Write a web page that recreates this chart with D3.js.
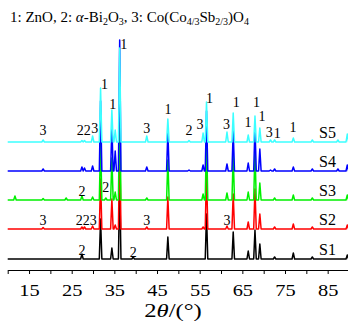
<!DOCTYPE html>
<html>
<head>
<meta charset="utf-8">
<script src="https://cdn.jsdelivr.net/npm/d3@7"></script>
<style>
  body { margin: 0; background: #fff; }
  svg text { font-family: "Liberation Serif", "Times New Roman", Times, "DejaVu Serif", serif; fill: #000; }
</style>
</head>
<body>
<svg id="chart"></svg>
<script>
// XRD patterns, peaks as [2theta, intensity]
const seriesNames = ['S1', 'S2', 'S3', 'S4', 'S5']
const seriesColors = ['#000000', '#ff0000', '#00f000', '#0000ff', '#3cffff']
const seriesOffsets = [10, 40, 69, 98, 127]

const s1Peaks = [[27.4, 5], [31.77, 40], [34.42, 11], [36.25, 80], [39.4, 2], [47.54, 22], [56.6, 45], [62.86, 27], [66.38, 8], [67.96, 29], [69.1, 15], [72.56, 2], [76.95, 6], [81.4, 2], [89.6, 4]]
const s2Peaks = [[18.3, 1.5], [27.4, 2], [28.0, 2], [29.9, 3], [31.77, 50], [34.42, 30], [35.2, 4], [36.25, 90], [42.6, 2], [47.54, 32], [55.8, 2], [56.6, 60], [61.4, 3], [62.86, 35], [66.38, 7], [67.96, 40], [69.1, 15], [72.56, 2], [76.95, 5], [81.4, 2], [89.6, 4]]
const s3Peaks = [[11.7, 4], [18.3, 1.5], [23.7, 2], [27.4, 4], [29.9, 3], [31.77, 60], [33.0, 2], [34.42, 42], [35.2, 8], [36.25, 100], [42.6, 2], [47.54, 40], [55.8, 6], [56.6, 65], [61.4, 7], [62.86, 45], [66.38, 8], [67.96, 50], [69.1, 17], [72.56, 2], [76.95, 5], [81.4, 2], [89.6, 5]]
const s4Peaks = [[18.3, 2], [27.4, 4], [28.0, 3], [29.9, 5], [31.77, 70], [34.42, 45], [35.2, 20], [36.25, 131], [42.6, 4], [47.54, 40], [52.5, 1], [55.8, 6], [56.6, 60], [61.4, 7], [62.86, 40], [66.38, 8], [67.96, 45], [69.1, 22], [71.6, 1], [72.56, 2], [76.95, 4], [81.4, 2], [87.4, 2], [89.6, 6]]
const s5Peaks = [[18.3, 2], [27.4, 1.5], [28.0, 1.5], [29.9, 6], [31.77, 54], [34.42, 32], [35.2, 12], [36.25, 94], [42.6, 6], [47.54, 23], [52.5, 1.5], [55.8, 9], [56.6, 40], [61.4, 10], [62.86, 29], [66.38, 7], [67.96, 26], [69.1, 14], [71.6, 2], [72.56, 2], [76.95, 4], [81.4, 2], [87.4, 2], [89.6, 8]]
const allPeaks = [s1Peaks, s2Peaks, s3Peaks, s4Peaks, s5Peaks]

// phase labels: [text, 2theta, height above axis zero]
const peakLabels = [
  ['2', 27.4, 14], ['2', 39.4, 12],
  ['3', 18.3, 44], ['223', 28.4, 44], ['3', 42.6, 44], ['3', 61.4, 44],
  ['2', 27.4, 73], ['2', 33.0, 77],
  ['3', 18.3, 134], ['22', 27.8, 134], ['3', 30.4, 136], ['1', 32.7, 180], ['1', 34.6, 160],
  ['1', 37.2, 220], ['3', 42.6, 136], ['1', 47.6, 155], ['2', 52.5, 134], ['3', 55.1, 140],
  ['1', 57.3, 166], ['3', 61.3, 140], ['1', 63.6, 162], ['1', 66.3, 142], ['1', 68.3, 162],
  ['1', 69.6, 148], ['3', 71.3, 132], ['1', 73.2, 131], ['1', 76.9, 137]
]
const xTicks = [10, 15, 20, 25, 30, 35, 40, 45, 50, 55, 60, 65, 70, 75, 80, 85, 90]

const width = 348
const height = 322
const svg = d3.select('#chart').attr('width', width).attr('height', height)

const xScale = d3.scaleLinear().domain([10, 90]).range([7.7, 349])
const yScale = d3.scaleLinear().domain([0, 240]).range([269, 29])

// axis
const xAxis = d3.axisBottom(xScale)
  .tickValues(xTicks)
  .tickFormat(d => (d % 10 === 5 ? d : ''))
  .tickSize(4)
  .tickSizeOuter(0)
const gx = svg.append('g')
  .attr('transform', 'translate(0,270)')
  .call(xAxis)
  .attr('font-family', null)
gx.select('.domain').attr('stroke', '#000').attr('stroke-width', 1.2)
gx.selectAll('.tick line').attr('stroke', '#000').attr('stroke-width', 1)
gx.selectAll('.tick text')
  .attr('y', 14)
  .attr('transform', 'scale(1.2,1)')
  .style('font-size', '17px')

svg.append('text')
  .attr('transform', 'translate(173,317) scale(1.3,1)')
  .attr('text-anchor', 'middle')
  .style('font-size', '19px')
  .html('2<tspan font-style="italic">θ</tspan>/(°)')

// patterns
const w = 0.3
const line = d3.line()
  .x(d => xScale(d[0]))
  .y(d => yScale(d[1]))

allPeaks.forEach((peaks, i) => {
  const off = seriesOffsets[i]
  let pts = [[10, off]]
  peaks.forEach(p => {
    pts.push([p[0] - w, off])
    pts.push([p[0], off + p[1]])
    pts.push([p[0] + w, off])
  })
  pts.push([90, off])
  svg.append('path')
    .attr('d', line(pts))
    .attr('fill', 'none')
    .attr('stroke', seriesColors[i])
    .attr('stroke-width', 1.5)
    .attr('stroke-linejoin', 'round')

  svg.append('text')
    .attr('x', 319)
    .attr('y', yScale(off) - 4)
    .style('font-size', '16px')
    .text(seriesNames[i])
})

// peak labels
svg.selectAll('.plabel')
  .data(peakLabels)
  .enter()
  .append('text')
  .attr('class', 'plabel')
  .attr('x', d => xScale(d[1]))
  .attr('y', d => yScale(d[2]))
  .attr('text-anchor', 'middle')
  .style('font-size', '14px')
  .text(d => d[0])

// title
const title = svg.append('text').attr('x', 10).attr('y', 22).style('font-size', '15px')
const parts = [
  ['1: ZnO, 2: ', 0], ['α', 2], ['-Bi', 0], ['2', 1], ['O', 0], ['3', 1],
  [', 3: Co(Co', 0], ['4/3', 1], ['Sb', 0], ['2/3', 1], [')O', 0], ['4', 1]
]
let shifted = false
parts.forEach(p => {
  const t = title.append('tspan').text(p[0])
  if (p[1] === 1) {
    t.attr('dy', 3).style('font-size', '10px')
    shifted = true
  } else {
    if (shifted) t.attr('dy', -3)
    shifted = false
    if (p[1] === 2) t.style('font-style', 'italic')
  }
})
</script>
</body>
</html>
